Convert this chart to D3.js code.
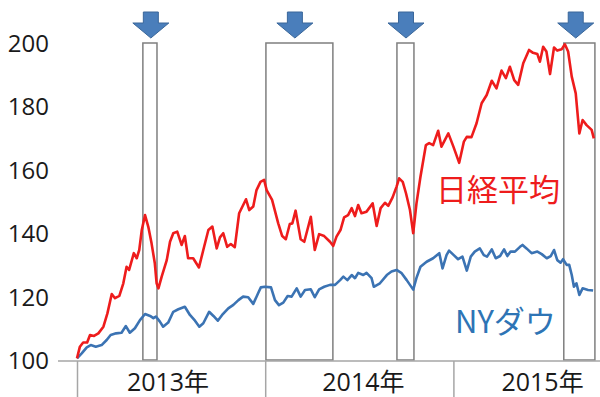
<!DOCTYPE html>
<html>
<head>
<meta charset="utf-8">
<script src="https://cdn.jsdelivr.net/npm/d3@7"></script>
<style>
  html, body { margin: 0; padding: 0; background: #fff; }
  svg { display: block; }
</style>
</head>
<body>
<svg id="chart" width="600" height="397"></svg>
<script>
// ---- data ----
const yTicks = [100, 120, 140, 160, 180, 200];
const yearLabels = ["2013年", "2014年", "2015年"];
const yearBoundaryWeeks = [0, 52, 104, 156];
const yearLabelWeeks = [25, 79, 128.5];

const nikkeiWeeks = [
  0,0.8,1.7,2.8,3.6,4.7,5.9,7.3,8.4,9.6,
  10.5,11.7,12.8,13.7,14.4,15.7,16.5,17.2,17.9,18.8,
  19.7,20.6,21.5,22.0,22.5,23.4,24.8,25.7,26.6,27.7,
  28.9,29.8,30.7,32.1,33.7,34.9,36.3,37.4,38.6,39.5,
  40.4,41.5,42.5,43.6,44.8,46.7,47.6,48.7,49.6,50.7,
  51.7,52.4,53.9,55.6,56.7,57.7,58.8,59.5,60.4,61.8,
  62.8,64.6,65.7,66.9,68.3,69.9,70.8,71.7,72.8,73.8,
  74.9,75.9,76.8,77.7,78.6,80.0,81.7,82.8,83.9,85.1,
  86.0,87.2,88.3,89.0,90.0,90.9,92.0,92.9,93.8,94.9,
  96.4,97.3,98.4,99.8,100.7,102.6,104.0,105.6,106.9,107.7,
  109.0,110.4,111.8,113.2,114.6,115.9,117.3,118.5,119.6,120.8,
  121.9,123.3,124.9,126.0,127.2,127.9,128.8,129.7,130.7,131.8,
  132.7,133.9,134.8,135.7,136.7,137.8,138.8,139.7,140.8,142.2,
  142.8
];
const nikkeiValues = [
  100.5,104.2,105.5,105.5,107.9,107.6,108.4,110.5,114.7,120.8,
  119.5,120.2,124.2,129.4,128.4,133.7,132.1,134.7,141.0,145.7,
  142.0,136.8,130.5,124.2,122.6,126.3,131.5,137.3,140.0,140.5,
  136.3,139.1,132.1,132.1,129.2,134.7,141.0,142.1,135.2,138.7,
  140.0,135.7,136.6,135.6,146.3,150.7,147.3,148.4,153.6,156.2,
  156.8,153.6,150.5,143.1,139.1,138.1,142.9,143.1,147.1,138.1,
  137.3,145.2,134.7,139.7,139.1,137.3,136.0,138.9,141.0,145.0,
  145.7,147.9,145.4,148.9,146.3,146.8,149.4,142.3,147.9,149.6,
  148.6,151.3,154.7,157.3,156.2,152.6,147.3,140.0,149.4,157.8,
  167.8,168.4,167.8,172.3,167.3,171.5,167.3,162.2,168.9,170.4,
  170.3,174.7,181.0,183.6,188.1,185.7,191.3,188.9,192.5,188.3,
  186.8,193.6,197.8,196.9,196.5,194.1,198.8,197.3,190.2,198.6,
  197.6,198.0,199.6,197.3,189.4,184.1,171.5,175.7,174.1,172.6,
  169.9
];

const dowWeeks = [
  0,1.3,2.7,3.8,5.2,6.8,8.2,9.3,10.8,12.3,
  13.5,14.6,16.0,17.4,18.8,20.2,21.1,21.8,22.9,23.8,
  25.2,26.6,28.0,29.8,31.2,32.6,33.8,34.9,36.5,37.7,
  38.9,40.1,41.8,43.2,44.6,45.9,47.3,48.7,50.1,50.8,
  51.9,53.6,54.7,55.8,57.0,58.2,59.3,60.7,61.8,63.0,
  64.6,65.7,66.9,68.3,69.9,71.3,72.7,73.6,74.7,75.9,
  76.8,77.7,79.1,80.0,81.4,82.0,83.7,85.6,86.9,88.3,
  89.7,91.1,92.0,92.9,93.8,94.9,96.6,98.4,100.1,101.0,
  102.1,102.8,104.1,105.3,106.5,107.7,108.8,109.9,111.3,112.4,
  113.3,114.6,115.7,116.9,118.0,118.9,119.8,121.0,122.4,123.1,
  124.2,125.6,127.2,128.4,129.8,130.9,131.8,132.7,133.6,134.3,
  135.3,136.0,136.7,137.3,138.0,138.8,139.7,141.2,142.6
];
const dowValues = [
  100.5,102.1,104.0,104.7,104.2,104.7,106.3,107.9,108.4,108.6,
  110.7,108.6,110.0,112.6,114.5,113.9,113.2,113.7,112.1,110.5,
  111.8,115.2,116.0,116.8,114.2,112.4,110.5,111.6,115.2,113.9,
  112.4,114.2,116.3,117.4,118.9,120.0,119.8,117.7,121.2,122.9,
  123.1,122.9,118.9,117.3,118.1,120.2,120.0,122.6,120.0,122.1,
  122.3,119.8,122.3,123.1,123.7,123.7,125.2,126.3,125.2,126.8,
  125.8,127.5,126.8,127.5,125.8,123.1,124.2,126.8,127.9,128.4,
  127.4,125.2,123.7,122.2,125.9,129.4,131.0,132.1,133.7,128.9,
  133.1,134.5,133.1,131.8,132.6,128.2,132.6,134.2,135.2,133.1,
  132.6,134.9,132.1,132.8,134.9,132.8,134.2,134.2,135.7,136.3,
  135.2,133.7,134.2,133.4,132.1,132.8,134.7,131.5,130.7,131.8,
  130.0,130.0,126.8,123.1,124.2,120.5,122.6,122.1,121.9
];

// highlighted periods (weeks since start of 2013)
const periodStarts = [18.2, 52.2, 88.4, 134.5];
const periodEnds   = [22.1, 70.7, 93.1, 143.1];
const arrowWeeks   = [20.4, 60.2, 90.9, 137.8];

const seriesNames = ["日経平均", "NYダウ"];

// ---- drawing ----
const svg = d3.select("#chart");
const x = d3.scaleLinear().domain([0, 52]).range([77, 265.2]);
const y = d3.scaleLinear().domain([100, 200]).range([360, 43]);

const NUM_FONT = "'Open Sans', 'Noto Sans CJK JP', sans-serif";
const JP_FONT = "'Noto Sans CJK JP', sans-serif";
const RED = "#ee1c1c";
const BLUE = "#3b73b3";

// period boxes
svg.append("g").selectAll("rect")
  .data(periodStarts.map((s, i) => ({ s, e: periodEnds[i] })))
  .join("rect")
  .attr("x", d => x(d.s))
  .attr("y", y(200))
  .attr("width", d => x(d.e) - x(d.s))
  .attr("height", y(100) - y(200))
  .attr("fill", "none")
  .attr("stroke", "#7f7f7f")
  .attr("stroke-width", 1.5);

// arrows
const arrowPath = cx => {
  const sw = 7.5, hw = 18, top = 12, base = 23, tip = 38;
  return `M${cx - sw},${top} L${cx + sw},${top} L${cx + sw},${base} L${cx + hw},${base} ` +
         `L${cx},${tip} L${cx - hw},${base} L${cx - sw},${base} Z`;
};
svg.append("g").selectAll("path")
  .data(arrowWeeks)
  .join("path")
  .attr("d", d => arrowPath(x(d)))
  .attr("fill", "#4a7ebb")
  .attr("stroke", "#3a679a")
  .attr("stroke-width", 1);

// x axis (category dividers)
const xAxis = d3.axisBottom(x).tickValues(yearBoundaryWeeks).tickSize(37).tickFormat("");
const gx = svg.append("g").attr("transform", "translate(0,361)").call(xAxis);
gx.select(".domain").remove();
gx.selectAll(".tick line").attr("stroke", "#a6a6a6").attr("stroke-width", 1.5);
svg.append("line")
  .attr("x1", 58).attr("x2", 600).attr("y1", 361).attr("y2", 361)
  .attr("stroke", "#a6a6a6").attr("stroke-width", 1.5);

// year labels
const yearAxis = d3.axisBottom(x).tickValues(yearLabelWeeks)
  .tickFormat((d, i) => yearLabels[i]).tickSize(0);
const gy2 = svg.append("g").attr("transform", "translate(0,0)").call(yearAxis);
gy2.select(".domain").remove();
gy2.selectAll(".tick text")
  .attr("y", 391).attr("dy", 0)
  .attr("font-family", NUM_FONT).attr("font-size", 25)
  .attr("fill", "#1a1a1a");

// y axis
const yAxis = d3.axisLeft(y).tickValues(yTicks).tickSize(0).tickPadding(0);
const gy = svg.append("g").attr("transform", "translate(49,0)").call(yAxis);
gy.select(".domain").remove();
gy.selectAll(".tick text")
  .attr("font-family", NUM_FONT).attr("font-size", 24)
  .attr("fill", "#1a1a1a").attr("dy", "0.35em");

// lines
const line = d3.line().x(d => x(d[0])).y(d => y(d[1]));
const nikkei = nikkeiWeeks.map((w, i) => [w, nikkeiValues[i]]);
const dow = dowWeeks.map((w, i) => [w, dowValues[i]]);

svg.append("path").datum(dow).attr("d", line)
  .attr("fill", "none").attr("stroke", BLUE).attr("stroke-width", 2.6)
  .attr("stroke-linejoin", "round");
svg.append("path").datum(nikkei).attr("d", line)
  .attr("fill", "none").attr("stroke", RED).attr("stroke-width", 2.6)
  .attr("stroke-linejoin", "round");

// series labels
svg.append("text").text(seriesNames[0])
  .attr("x", 436).attr("y", 201)
  .attr("font-family", JP_FONT).attr("font-size", 31).attr("fill", RED);
svg.append("text").text(seriesNames[1])
  .attr("x", 455).attr("y", 333)
  .attr("font-family", JP_FONT).attr("font-size", 31).attr("fill", "#2e74b5");
</script>
</body>
</html>
